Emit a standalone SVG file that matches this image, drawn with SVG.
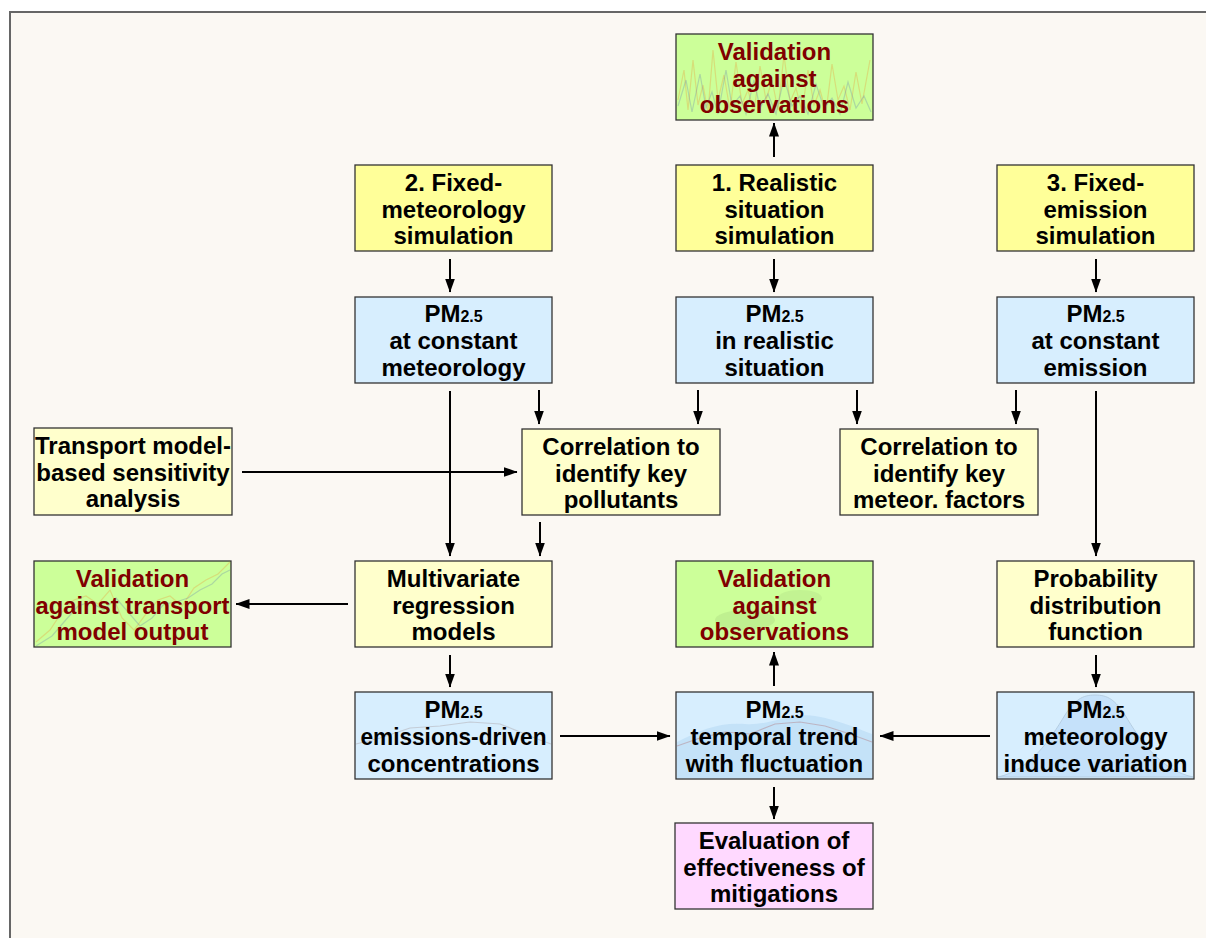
<svg xmlns="http://www.w3.org/2000/svg" width="1206" height="938" viewBox="0 0 1206 938">
<style>
.box{stroke:#333;stroke-width:1.3}
.y{fill:#FFFF99}
.ly{fill:#FFFFCC}
.b{fill:#D7EEFE}
.g{fill:#CCFF99}
.p{fill:#FFD9FF}
text{font-family:"Liberation Sans",Arial,sans-serif;font-weight:bold;font-size:24px;text-anchor:middle;fill:#000}
text.r{fill:#800000}
tspan.s{font-size:16px}
.c line{stroke:#000;stroke-width:2;marker-end:url(#ah)}
.deco{fill:none;stroke-width:1.2;opacity:0.35}
</style>
<defs>
<marker id="ah" markerUnits="userSpaceOnUse" markerWidth="14" markerHeight="12" viewBox="0 0 14 12" refX="13.5" refY="6" orient="auto">
<path d="M0,1 L14,6 L0,11 Z" fill="#000"/>
</marker>
</defs>
<rect x="0" y="0" width="1206" height="938" fill="#FFFFFF"/>
<rect x="10" y="12" width="1210" height="940" fill="#FBF8F3" stroke="#666" stroke-width="2"/>

<g id="connectors" class="c">
<line x1="774" y1="157" x2="774" y2="123"/>
<line x1="450" y1="259" x2="450" y2="292"/>
<line x1="774" y1="259" x2="774" y2="292"/>
<line x1="1096" y1="259" x2="1096" y2="292"/>
<line x1="450" y1="391" x2="450" y2="556"/>
<line x1="539" y1="390" x2="539" y2="424"/>
<line x1="698" y1="390" x2="698" y2="424"/>
<line x1="857" y1="390" x2="857" y2="424"/>
<line x1="1016" y1="390" x2="1016" y2="424"/>
<line x1="1096" y1="391" x2="1096" y2="556"/>
<line x1="242" y1="472" x2="517" y2="472"/>
<line x1="540" y1="522" x2="540" y2="556"/>
<line x1="348" y1="604" x2="236" y2="604"/>
<line x1="450" y1="655" x2="450" y2="687"/>
<line x1="774" y1="686" x2="774" y2="652"/>
<line x1="560" y1="736" x2="670" y2="736"/>
<line x1="990" y1="736" x2="880" y2="736"/>
<line x1="1096" y1="655" x2="1096" y2="687"/>
<line x1="774" y1="787" x2="774" y2="819"/>
</g>

<g id="valTop">
<rect class="box g" x="676" y="34" width="197" height="86"/>
<polyline class="deco" stroke="#E8A040" points="678,100 684,70 688,110 693,60 698,105 703,85 708,112 713,50 718,100 724,75 730,110 736,62 742,104 748,90 754,112 760,66 766,100 772,80 778,110 784,55 790,102 796,88 802,112 808,70 814,105 820,90 826,112 832,64 838,100 844,86 850,110 856,72 862,104 870,60"/>
<polyline class="deco" stroke="#7090B0" points="678,106 686,80 692,112 700,74 706,108 712,92 718,114 726,70 732,106 740,96 746,114 754,80 760,108 768,94 776,114 784,78 792,106 800,96 808,114 816,84 824,108 832,98 840,114 848,82 856,108 864,96 871,112"/>
<text class="r" x="774.5" y="60">Validation</text>
<text class="r" x="774.5" y="86.5">against</text>
<text class="r" x="774.5" y="113">observations</text>
</g>

<g id="sim2">
<rect class="box y" x="355" y="165" width="197" height="86"/>
<text x="453.5" y="191">2. Fixed-</text>
<text x="453.5" y="217.5">meteorology</text>
<text x="453.5" y="244">simulation</text>
</g>
<g id="sim1">
<rect class="box y" x="676" y="165" width="197" height="86"/>
<text x="774.5" y="191">1. Realistic</text>
<text x="774.5" y="217.5">situation</text>
<text x="774.5" y="244">simulation</text>
</g>
<g id="sim3">
<rect class="box y" x="997" y="165" width="197" height="86"/>
<text x="1095.5" y="191">3. Fixed-</text>
<text x="1095.5" y="217.5">emission</text>
<text x="1095.5" y="244">simulation</text>
</g>

<g id="pmMet">
<rect class="box b" x="355" y="297" width="197" height="86"/>
<text x="453.5" y="322">PM<tspan class="s">2.5</tspan></text>
<text x="453.5" y="349">at constant</text>
<text x="453.5" y="375.5">meteorology</text>
</g>
<g id="pmReal">
<rect class="box b" x="676" y="297" width="197" height="86"/>
<text x="774.5" y="322">PM<tspan class="s">2.5</tspan></text>
<text x="774.5" y="349">in realistic</text>
<text x="774.5" y="375.5">situation</text>
</g>
<g id="pmEm">
<rect class="box b" x="997" y="297" width="197" height="86"/>
<text x="1095.5" y="322">PM<tspan class="s">2.5</tspan></text>
<text x="1095.5" y="349">at constant</text>
<text x="1095.5" y="375.5">emission</text>
</g>

<g id="transport">
<rect class="box ly" x="34" y="428" width="198" height="87"/>
<text x="133" y="454">Transport model-</text>
<text x="133" y="480.5">based sensitivity</text>
<text x="133" y="507">analysis</text>
</g>
<g id="corrPol">
<rect class="box ly" x="522" y="429" width="198" height="86"/>
<text x="621" y="455">Correlation to</text>
<text x="621" y="481.5">identify key</text>
<text x="621" y="508">pollutants</text>
</g>
<g id="corrMet">
<rect class="box ly" x="840" y="429" width="198" height="86"/>
<text x="939" y="455">Correlation to</text>
<text x="939" y="481.5">identify key</text>
<text x="939" y="508">meteor. factors</text>
</g>

<g id="valTrans">
<rect class="box g" x="34" y="561" width="197" height="86"/>
<polyline class="deco" stroke="#E8A040" points="36,642 50,630 62,612 74,600 86,596 98,604 110,590 122,618 134,630 146,614 158,600 170,596 182,606 194,588 206,580 218,574 226,566 230,562"/>
<polyline class="deco" stroke="#7090B0" points="36,646 52,636 64,622 78,606 90,602 104,610 116,598 128,612 140,626 152,618 164,604 176,602 188,598 200,590 212,584 222,574 230,570"/>
<text class="r" x="132.5" y="587">Validation</text>
<text class="r" x="132.5" y="613.5" textLength="194" lengthAdjust="spacingAndGlyphs">against transport</text>
<text class="r" x="132.5" y="640">model output</text>
</g>
<g id="multi">
<rect class="box ly" x="355" y="561" width="197" height="86"/>
<text x="453.5" y="587">Multivariate</text>
<text x="453.5" y="613.5">regression</text>
<text x="453.5" y="640">models</text>
</g>
<g id="valObs">
<rect class="box g" x="676" y="561" width="197" height="86"/>
<ellipse cx="745" cy="620" rx="30" ry="10" fill="#7A9A60" opacity="0.15"/>
<ellipse cx="800" cy="598" rx="22" ry="8" fill="#7A9A60" opacity="0.12"/>
<text class="r" x="774.5" y="587">Validation</text>
<text class="r" x="774.5" y="613.5">against</text>
<text class="r" x="774.5" y="640">observations</text>
</g>
<g id="prob">
<rect class="box ly" x="997" y="561" width="197" height="86"/>
<text x="1095.5" y="587">Probability</text>
<text x="1095.5" y="613.5">distribution</text>
<text x="1095.5" y="640">function</text>
</g>

<g id="pmEmis">
<rect class="box b" x="355" y="692" width="197" height="87"/>
<polyline class="deco" stroke="#A09090" points="356,744 380,738 410,728 440,726 470,722 500,724 520,732 540,740 551,744"/>
<text x="453.5" y="718">PM<tspan class="s">2.5</tspan></text>
<text x="453.5" y="745" textLength="186" lengthAdjust="spacingAndGlyphs">emissions-driven</text>
<text x="453.5" y="771.5">concentrations</text>
</g>
<g id="pmTrend">
<rect class="box b" x="676" y="692" width="197" height="87"/>
<path d="M677,742 C700,730 720,722 745,724 C770,726 790,712 815,716 C840,720 860,730 872,734 L872,778 L677,778 Z" fill="#A8D0F0" opacity="0.4"/>
<polyline class="deco" stroke="#B06060" points="677,746 700,738 725,732 750,734 775,724 800,722 825,726 850,734 872,742"/>
<text x="774.5" y="718">PM<tspan class="s">2.5</tspan></text>
<text x="774.5" y="745">temporal trend</text>
<text x="774.5" y="771.5">with fluctuation</text>
</g>
<g id="pmMetVar">
<rect class="box b" x="997" y="692" width="197" height="87"/>
<path d="M998,777 C1030,770 1050,740 1065,715 C1075,700 1082,695 1095,695 C1108,695 1115,700 1125,715 C1140,740 1160,770 1193,777 Z" fill="#B8D8F8" opacity="0.55" stroke="#90A8C0" stroke-width="0.8"/>
<text x="1095.5" y="718">PM<tspan class="s">2.5</tspan></text>
<text x="1095.5" y="745">meteorology</text>
<text x="1095.5" y="771.5">induce variation</text>
</g>

<g id="eval">
<rect class="box p" x="675" y="823" width="198" height="86"/>
<text x="774" y="849">Evaluation of</text>
<text x="774" y="875.5">effectiveness of</text>
<text x="774" y="902">mitigations</text>
</g>
</svg>
